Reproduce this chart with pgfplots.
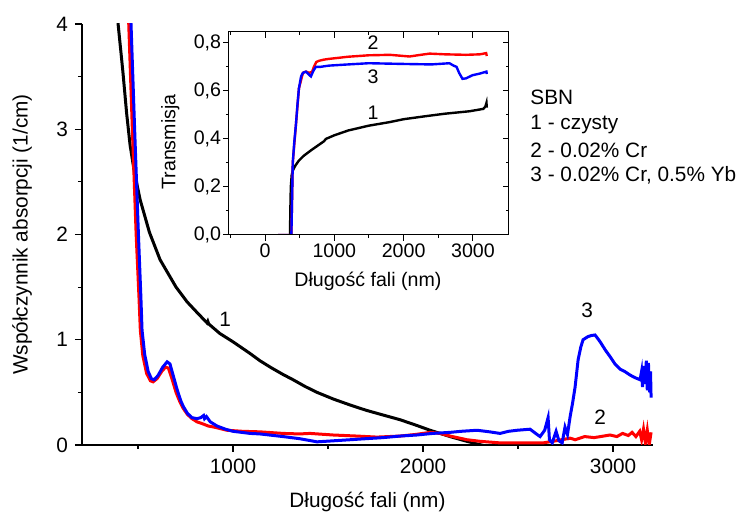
\documentclass[border=0pt]{standalone}
\usepackage{fontspec}
\setmainfont{Liberation Sans}
\usepackage{pgfplots}
\pgfplotsset{compat=1.18}
\newcommand\fs{\fontsize{10.4pt}{12.5pt}\selectfont}
\newcommand\fsi{\fontsize{9.8pt}{11.8pt}\selectfont}
\definecolor{cred}{RGB}{255,0,0}
\definecolor{cblue}{RGB}{0,0,255}

\begin{document}
\begin{tikzpicture}
\path[use as bounding box] (-41pt,-34pt) rectangle (329.5pt,222.5pt);

% main chart: absorption coefficient
\begin{axis}[
  at={(0pt,0pt)}, anchor=south west,
  scale only axis, width=285.5pt, height=210.5pt,
  xmin=205, xmax=3210, ymin=0, ymax=4,
  axis x line*=bottom, axis y line*=left,
  x axis line style={-}, y axis line style={-},
  axis line style={line width=0.6pt},
  tick align=outside, major tick length=3.5pt, minor tick length=2pt,
  tick style={line width=0.6pt, black},
  xtick={1000,2000,3000}, minor xtick={500,1500,2500},
  ytick={0,1,2,3,4}, minor ytick={0.5,1.5,2.5,3.5},
  /pgf/number format/assume math mode=true,
  /pgf/number format/1000 sep={},
  xticklabel style={font=\fs}, yticklabel style={font=\fs},
  xlabel={Długość fali (nm)},
  ylabel={Współczynnik absorpcji (1/cm)},
  xlabel style={font=\fs, at={(axis description cs:0.5,-0.135)}, anchor=center},
  ylabel style={font=\fs, at={(axis description cs:-0.105,0.5)}, anchor=center},
  clip mode=individual,
]
% 1 - czysty
\addplot[black, line width=1.5pt] coordinates {
(370,4.5) (395,4.0) (420,3.55) (440,3.15) (458,2.85) (480,2.6) (511,2.33)
(560,2.02) (616,1.76) (700,1.5) (758,1.36) (810,1.26) (863,1.16) (867,1.175)
(872,1.15) (930,1.06) (1000,0.98) (1089,0.87) (1142,0.80) (1200,0.735)
(1263,0.67) (1316,0.62) (1380,0.555) (1442,0.50) (1530,0.435) (1616,0.38)
(1700,0.33) (1789,0.285) (1879,0.24) (1960,0.19) (2037,0.14) (2142,0.08)
(2220,0.04) (2284,0.01) (2330,-0.01)
};
% 2 - 0.02% Cr
\addplot[cred, line width=1.5pt] coordinates {
(445,4.3) (451,4.0) (470,3.0) (490,2.0) (505,1.4) (512,1.09) (525,0.85)
(545,0.68) (565,0.61) (579,0.60) (600,0.63) (625,0.70) (645,0.74) (660,0.73)
(680,0.62) (700,0.50) (720,0.41) (737,0.35) (760,0.29) (784,0.25) (810,0.22)
(842,0.20) (870,0.18) (900,0.17) (968,0.14) (1050,0.13) (1142,0.125)
(1263,0.11) (1350,0.105) (1405,0.11) (1526,0.095) (1650,0.085) (1758,0.075)
(1879,0.085) (1960,0.10) (2037,0.12) (2090,0.11) (2142,0.085) (2231,0.05)
(2300,0.035) (2405,0.02) (2500,0.02) (2563,0.02) (2632,0.02) (2700,0.04)
(2774,0.065) (2800,0.05) (2850,0.08) (2900,0.07) (2984,0.095) (3020,0.08)
(3050,0.11) (3080,0.09) (3100,0.12) (3120,0.08) (3140,0.13) (3150,0.05)
(3160,0.15) (3170,0.02) (3180,0.14) (3190,0.0) (3200,0.12)
};
% 3 - 0.02% Cr, 0.5% Yb
\addplot[cblue, line width=1.5pt] coordinates {
(457,4.3) (463,4.0) (482,3.0) (502,2.0) (515,1.4) (521,1.09) (535,0.86)
(553,0.70) (570,0.63) (585,0.62) (605,0.66) (630,0.74) (653,0.79) (668,0.77)
(685,0.66) (705,0.53) (725,0.42) (737,0.37) (760,0.30) (784,0.26) (810,0.25)
(830,0.26) (845,0.28) (850,0.25) (860,0.27) (880,0.22) (916,0.18) (960,0.15)
(1000,0.13) (1089,0.11) (1142,0.105) (1263,0.08) (1350,0.06) (1442,0.03)
(1530,0.04) (1616,0.05) (1700,0.06) (1789,0.07) (1880,0.085) (1968,0.095)
(2050,0.11) (2142,0.12) (2200,0.13) (2284,0.14) (2350,0.125) (2405,0.11)
(2450,0.13) (2495,0.14) (2563,0.15) (2600,0.10) (2616,0.08) (2640,0.14)
(2658,0.26) (2665,0.05) (2680,0.02) (2700,0.13) (2715,0.04) (2732,0.02)
(2747,0.17) (2760,0.10) (2774,0.27) (2787,0.40) (2800,0.55) (2816,0.81)
(2830,0.93) (2842,1.00) (2868,1.03) (2885,1.04) (2905,1.045) (2920,1.01)
(2932,0.98) (2960,0.90) (2984,0.84) (3010,0.77) (3037,0.72) (3060,0.70)
(3089,0.665) (3115,0.64) (3142,0.62) (3150,0.70) (3155,0.55) (3162,0.75)
(3168,0.58) (3175,0.80) (3180,0.52) (3186,0.78) (3192,0.50) (3197,0.70)
(3200,0.45)
};
\node[font=\fs] at (axis cs:958,1.19) {1};
\node[font=\fs] at (axis cs:2932,0.26) {2};
\node[font=\fs] at (axis cs:2863,1.28) {3};
\node[font=\fs, anchor=west, inner sep=0pt] at (axis cs:2563,3.30) {SBN};
\node[font=\fs, anchor=west, inner sep=0pt] at (axis cs:2563,3.045) {1 - czysty};
\node[font=\fs, anchor=west, inner sep=0pt] at (axis cs:2563,2.80) {2 - 0.02\% Cr};
\node[font=\fs, anchor=west, inner sep=0pt] at (axis cs:2563,2.56) {3 - 0.02\% Cr, 0.5\% Yb};
\end{axis}

% inset: transmission
\begin{axis}[
  at={(73.5pt,105pt)}, anchor=south west,
  scale only axis, width=140pt, height=101.5pt,
  xmin=-520, xmax=3520, ymin=0, ymax=0.845,
  axis line style={line width=0.5pt},
  tick align=outside, major tick length=2.8pt, minor tick length=1.6pt,
  tick style={line width=0.5pt, black},
  xtick pos=left, ytick pos=left,
  xtick={0,1000,2000,3000}, minor xtick={-500,500,1500,2500},
  ytick={0,0.2,0.4,0.6,0.8}, minor ytick={0.1,0.3,0.5,0.7},
  /pgf/number format/assume math mode=true,
  /pgf/number format/use comma,
  /pgf/number format/1000 sep={},
  xticklabel style={font=\fsi, inner sep=1.5pt},
  yticklabel style={font=\fsi, inner sep=1pt, /pgf/number format/fixed,
    /pgf/number format/fixed zerofill, /pgf/number format/precision=1},
  xlabel={Długość fali (nm)},
  ylabel={Transmisja},
  xlabel style={font=\fsi, at={(axis description cs:0.496,-0.227)}, anchor=center},
  ylabel style={font=\fsi, at={(axis description cs:-0.21,0.458)}, anchor=center},
  clip mode=individual,
]
\addplot[black, line width=1.2pt] coordinates {
(360,0.0) (365,0.1) (372,0.2) (385,0.25) (403,0.27) (440,0.29) (489,0.31)
(560,0.33) (676,0.355) (800,0.38) (850,0.39) (878,0.40) (1000,0.415)
(1200,0.435) (1496,0.455) (1800,0.47) (2000,0.482) (2330,0.495) (2600,0.505)
(2950,0.515) (3150,0.525) (3180,0.535) (3195,0.55) (3200,0.53)
};
\addplot[cred, line width=1.2pt] coordinates {
(190,0.0) (380,0.0) (390,0.15) (400,0.30) (446,0.46) (489,0.61) (547,0.675)
(590,0.68) (640,0.675) (680,0.68) (705,0.70) (740,0.72) (777,0.725)
(850,0.73) (921,0.733) (1200,0.742) (1496,0.748) (1800,0.75) (2086,0.743)
(2200,0.748) (2374,0.755) (2600,0.752) (2900,0.75) (3100,0.752) (3190,0.757)
(3200,0.745)
};
\addplot[cblue, line width=1.2pt] coordinates {
(190,0.0) (380,0.0) (390,0.15) (400,0.30) (420,0.38) (446,0.46) (470,0.55)
(489,0.61) (520,0.66) (547,0.675) (590,0.68) (625,0.67) (662,0.66) (700,0.685)
(734,0.70) (800,0.70) (921,0.705) (1200,0.71) (1496,0.715) (2000,0.712)
(2400,0.71) (2662,0.715) (2720,0.705) (2763,0.70) (2800,0.675) (2849,0.65)
(2900,0.652) (2993,0.665) (3100,0.672) (3194,0.68) (3200,0.67)
};
\node[font=\fsi] at (axis cs:1558,0.80) {2};
\node[font=\fsi] at (axis cs:1558,0.66) {3};
\node[font=\fsi] at (axis cs:1558,0.51) {1};
\end{axis}

% mirrored inner ticks on top and right of the inset
\begin{axis}[
  at={(73.5pt,105pt)}, anchor=south west,
  scale only axis, width=140pt, height=101.5pt,
  xmin=-520, xmax=3520, ymin=0, ymax=0.845,
  axis line style={line width=0.5pt},
  tick align=inside, major tick length=2.8pt, minor tick length=1.6pt,
  tick style={line width=0.5pt, black},
  xtick pos=right, ytick pos=right,
  xtick={0,1000,2000,3000}, minor xtick={-500,500,1500,2500},
  ytick={0,0.2,0.4,0.6,0.8}, minor ytick={0.1,0.3,0.5,0.7},
  xticklabels={}, yticklabels={},
]
\end{axis}
\end{tikzpicture}
\end{document}
